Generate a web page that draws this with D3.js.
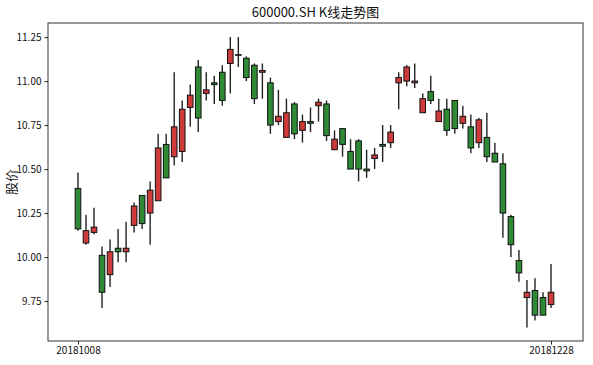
<!DOCTYPE html>
<html>
<head>
<meta charset="utf-8">
<script src="https://cdn.jsdelivr.net/npm/d3@7"></script>
<style>
  body { margin: 0; background: #fff; }
  text { font-family: "Noto Sans CJK SC", "DejaVu Sans", sans-serif; }
</style>
</head>
<body>
<div id="chart"></div>
<script>
// trading days, 2018-10-08 .. 2018-12-28
const dates = [
  "20181008","20181009","20181010","20181011","20181012",
  "20181015","20181016","20181017","20181018","20181019",
  "20181022","20181023","20181024","20181025","20181026",
  "20181029","20181030","20181031","20181101","20181102",
  "20181105","20181106","20181107","20181108","20181109",
  "20181112","20181113","20181114","20181115","20181116",
  "20181119","20181120","20181121","20181122","20181123",
  "20181126","20181127","20181128","20181129","20181130",
  "20181203","20181204","20181205","20181206","20181207",
  "20181210","20181211","20181212","20181213","20181214",
  "20181217","20181218","20181219","20181220","20181221",
  "20181224","20181225","20181226","20181227","20181228"
];

const open = [
  10.39, 10.08, 10.14, 10.01, 9.90, 10.05, 10.03, 10.18, 10.35, 10.25,
  10.32, 10.64, 10.57, 10.60, 10.85, 11.08, 10.93, 10.99, 11.05, 11.10,
  11.15, 11.13, 11.09, 11.05, 10.99, 10.77, 10.68, 10.87, 10.72, 10.77,
  10.86, 10.87, 10.61, 10.73, 10.60, 10.66, 10.50, 10.56, 10.64, 10.65,
  10.99, 11.00, 10.99, 10.82, 10.94, 10.77, 10.84, 10.89, 10.76, 10.74,
  10.65, 10.68, 10.59, 10.53, 10.23, 9.98, 9.77, 9.81, 9.77, 9.73
];
const close = [
  10.16, 10.15, 10.17, 9.80, 10.03, 10.03, 10.05, 10.29, 10.19, 10.38,
  10.62, 10.45, 10.74, 10.84, 10.92, 10.79, 10.95, 10.98, 10.89, 11.18,
  11.15, 11.02, 10.90, 11.06, 10.75, 10.80, 10.82, 10.70, 10.77, 10.76,
  10.88, 10.69, 10.67, 10.64, 10.50, 10.50, 10.49, 10.58, 10.63, 10.71,
  11.02, 11.08, 11.00, 10.90, 10.89, 10.83, 10.72, 10.73, 10.80, 10.62,
  10.78, 10.57, 10.54, 10.25, 10.07, 9.91, 9.80, 9.67, 9.67, 9.80
];
const high = [
  10.48, 10.24, 10.28, 10.06, 10.10, 10.16, 10.20, 10.31, 10.35, 10.43,
  10.70, 10.70, 11.05, 10.89, 10.98, 11.12, 11.05, 11.03, 11.09, 11.25,
  11.25, 11.14, 11.10, 11.10, 11.02, 10.95, 10.90, 10.88, 10.81, 10.85,
  10.90, 10.89, 10.72, 10.73, 10.67, 10.67, 10.61, 10.62, 10.75, 10.75,
  11.05, 11.09, 11.10, 10.93, 11.03, 10.90, 10.90, 10.89, 10.86, 10.81,
  10.79, 10.82, 10.65, 10.59, 10.24, 10.04, 9.87, 9.88, 9.80, 9.96
];
const low = [
  10.15, 10.07, 10.13, 9.71, 9.83, 9.97, 9.97, 10.14, 10.16, 10.07,
  10.32, 10.45, 10.52, 10.54, 10.74, 10.71, 10.89, 10.87, 10.86, 10.93,
  11.08, 11.00, 10.87, 10.90, 10.70, 10.75, 10.68, 10.67, 10.65, 10.71,
  10.77, 10.66, 10.61, 10.57, 10.50, 10.43, 10.45, 10.50, 10.54, 10.62,
  10.84, 10.97, 10.96, 10.82, 10.87, 10.77, 10.69, 10.70, 10.73, 10.59,
  10.62, 10.54, 10.54, 10.11, 10.00, 9.86, 9.60, 9.64, 9.67, 9.71
];

const yTicks = [9.75, 10.00, 10.25, 10.50, 10.75, 11.00, 11.25];
const xTickLabels = ["20181008", "20181228"];

const W = 593, H = 365;
const margin = {top: 23, right: 10, bottom: 24, left: 48};
const upColor = "#cf3a3a", downColor = "#2f8a36";

const data = dates.map(function(d, i) {
  return {date: d, i: i, open: open[i], close: close[i], high: high[i], low: low[i]};
});

const svg = d3.select("#chart").append("svg")
  .attr("width", W)
  .attr("height", H);

const x = d3.scaleLinear()
  .domain([-3.74, dates.length + 2.99])
  .range([margin.left, W - margin.right]);

const y = d3.scaleLinear()
  .domain([9.523, 11.33])
  .range([H - margin.bottom, margin.top]);

// wicks
svg.append("g").selectAll("line.wick")
  .data(data)
  .enter().append("line")
  .attr("class", "wick")
  .attr("x1", function(d) { return x(d.i); })
  .attr("x2", function(d) { return x(d.i); })
  .attr("y1", function(d) { return y(d.high); })
  .attr("y2", function(d) { return y(d.low); })
  .style("stroke", "#222")
  .style("stroke-width", 1.4);

// bodies
const bw = x(0.7) - x(0);
svg.append("g").selectAll("rect.body")
  .data(data)
  .enter().append("rect")
  .attr("class", "body")
  .attr("x", function(d) { return x(d.i) - bw / 2; })
  .attr("y", function(d) { return y(Math.max(d.open, d.close)); })
  .attr("width", bw)
  .attr("height", function(d) { return Math.max(0.6, Math.abs(y(d.open) - y(d.close))); })
  .style("fill", function(d) { return d.close >= d.open ? upColor : downColor; })
  .style("stroke", "#111")
  .style("stroke-width", 1);

// axes
const yAxis = svg.append("g")
  .attr("transform", "translate(" + margin.left + ",0)")
  .call(d3.axisLeft(y).tickValues(yTicks).tickFormat(d3.format(".2f")).tickSize(3.5).tickPadding(3));

const xAxis = svg.append("g")
  .attr("transform", "translate(0," + (H - margin.bottom) + ")")
  .call(d3.axisBottom(x)
    .tickValues([0, dates.length - 1])
    .tickFormat(function(d) { return xTickLabels[d === 0 ? 0 : 1]; })
    .tickSize(3.5).tickPadding(2));

[yAxis, xAxis].forEach(function(a) {
  a.select(".domain").remove();
  a.selectAll("text").style("font-size", "10px").style("fill", "#111");
  a.selectAll("line").style("stroke", "#222");
});

// frame
svg.append("rect")
  .attr("x", margin.left)
  .attr("y", margin.top)
  .attr("width", W - margin.left - margin.right)
  .attr("height", H - margin.top - margin.bottom)
  .style("fill", "none")
  .style("stroke", "#333")
  .style("stroke-width", 1);

// title
svg.append("text")
  .attr("x", (margin.left + W - margin.right) / 2)
  .attr("y", 17)
  .attr("text-anchor", "middle")
  .style("font-size", "13px")
  .style("fill", "#111")
  .text("600000.SH K线走势图");

// y label
svg.append("text")
  .attr("transform", "translate(16," + ((margin.top + H - margin.bottom) / 2) + ") rotate(-90)")
  .attr("text-anchor", "middle")
  .style("font-size", "13px")
  .style("fill", "#111")
  .text("股价");
</script>
</body>
</html>
